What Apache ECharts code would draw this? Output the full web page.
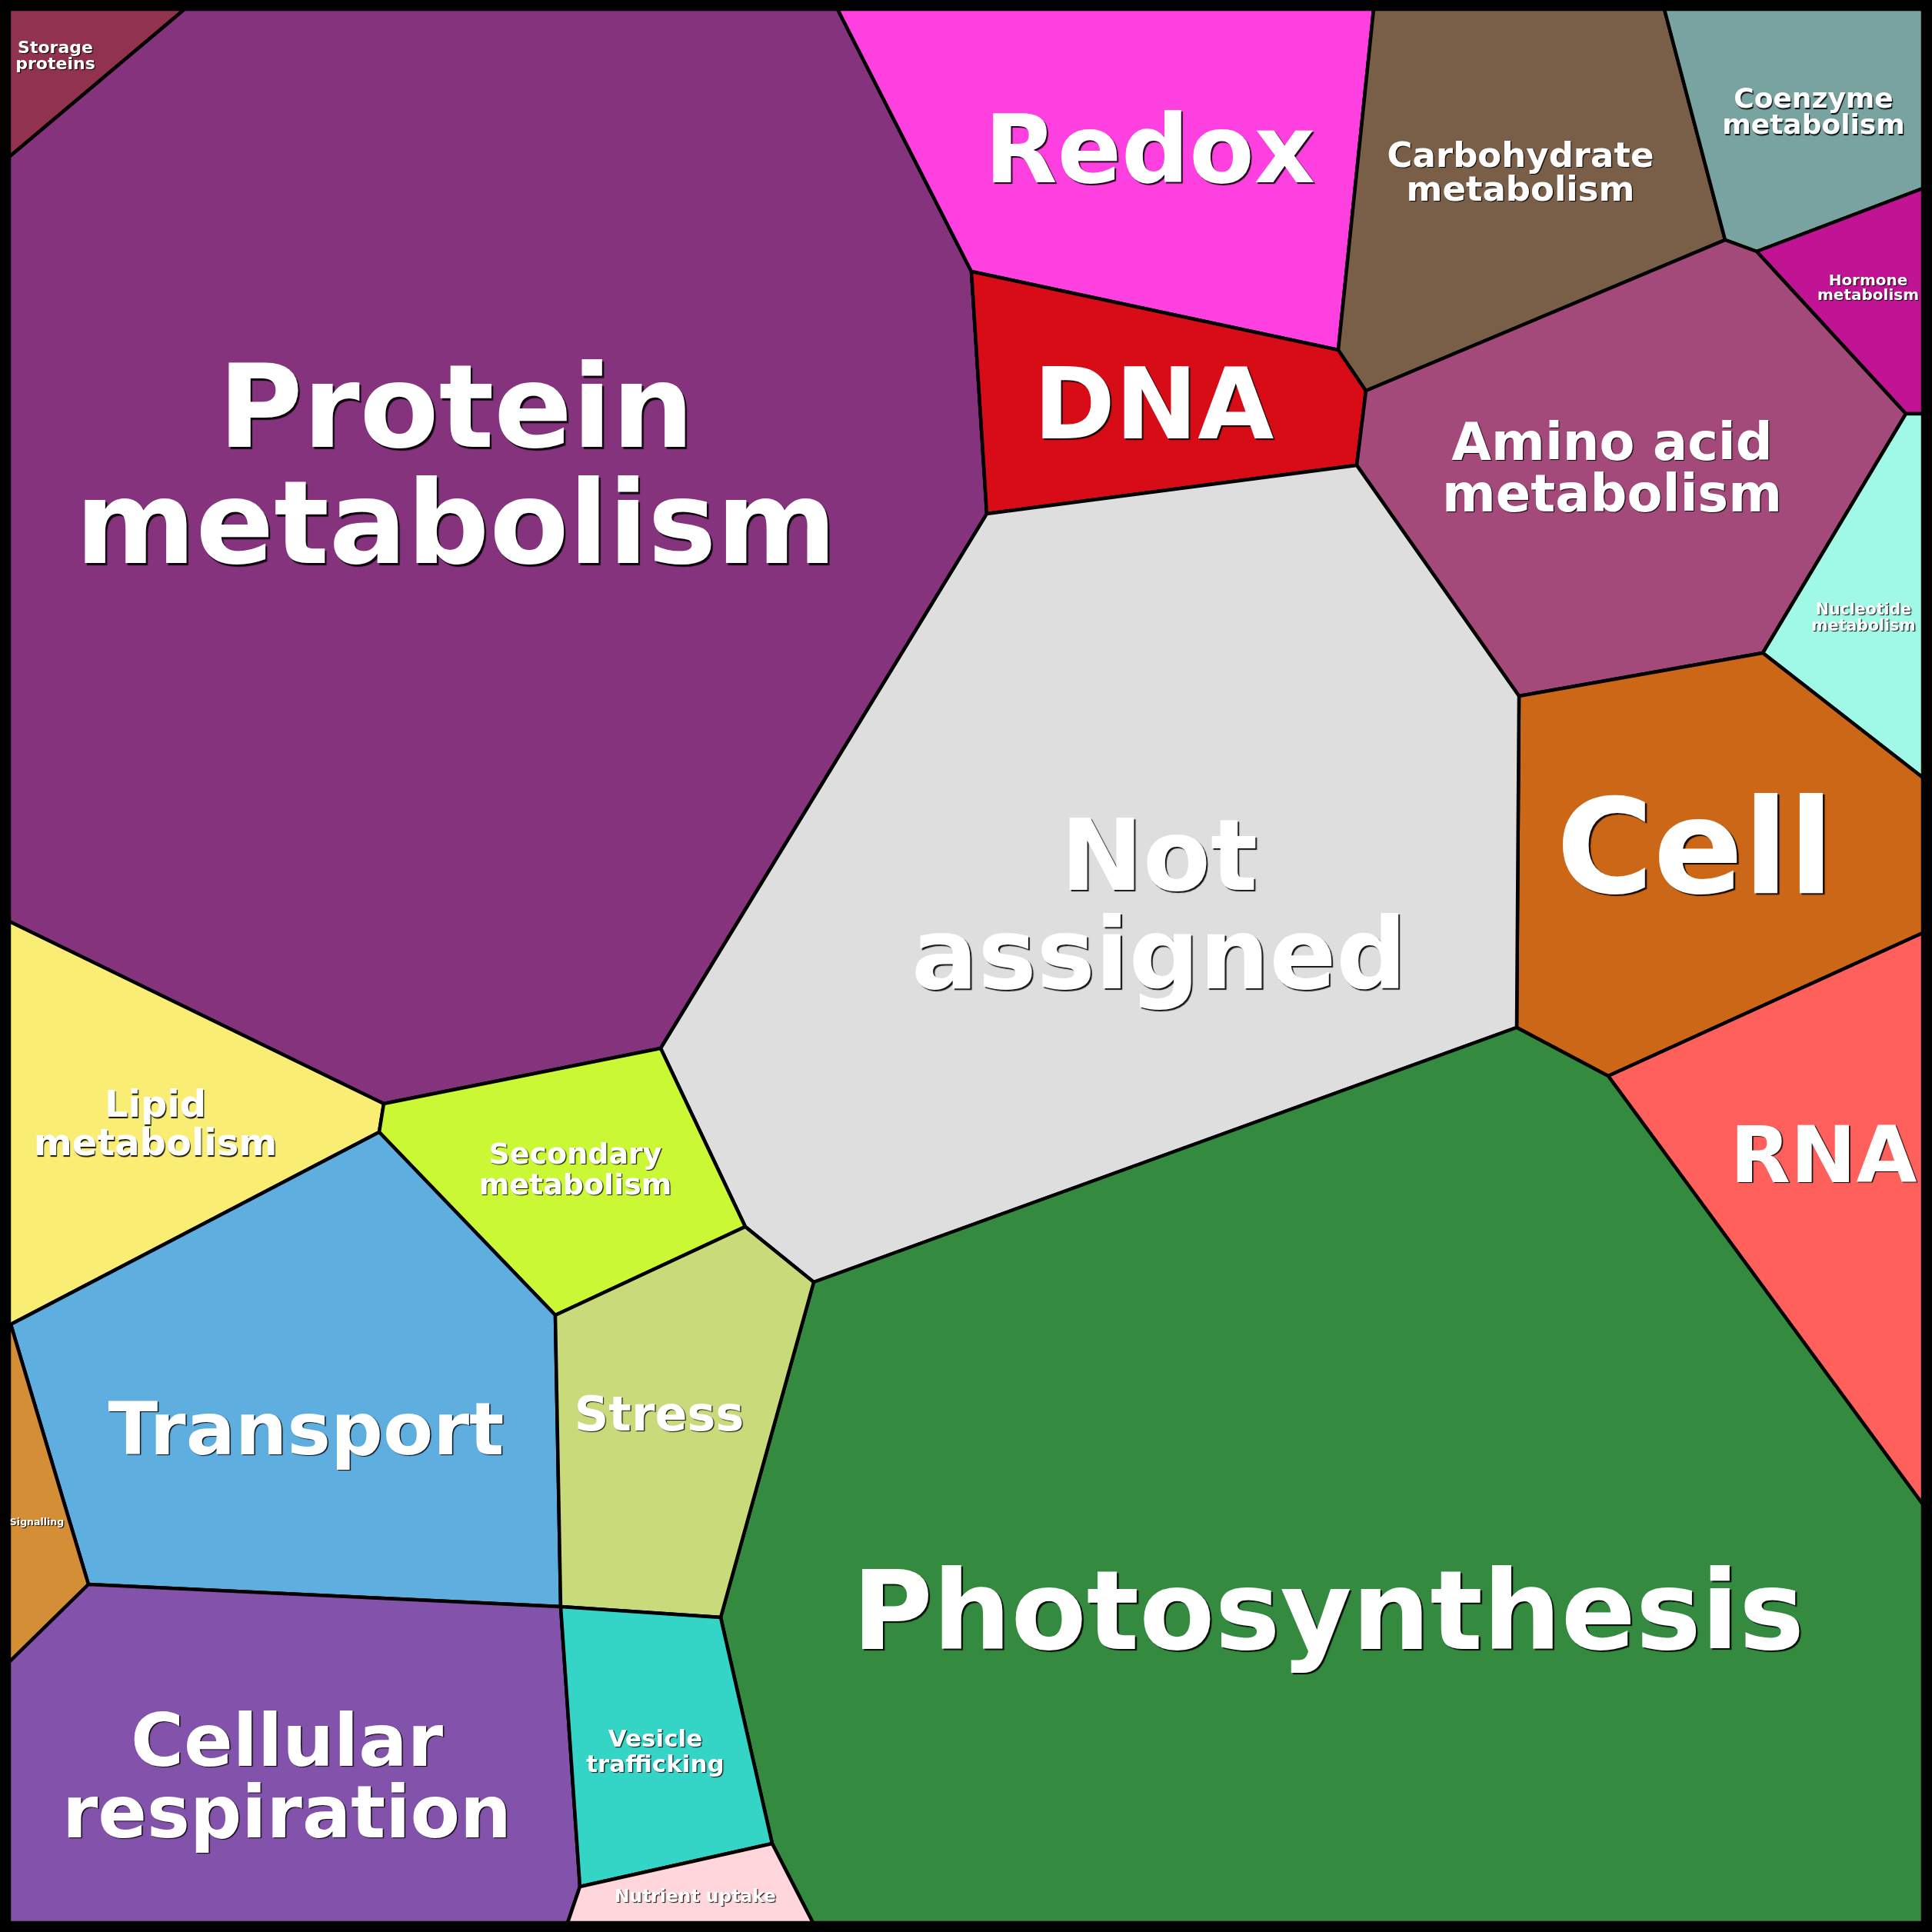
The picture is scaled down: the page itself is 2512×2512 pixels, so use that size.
<!DOCTYPE html>
<html>
<head>
<meta charset="utf-8">
<script src="https://cdn.jsdelivr.net/npm/echarts@6/dist/echarts.min.js"></script>
<style>
html,body{margin:0;padding:0;background:#fff;}
#chart{width:2512px;height:2512px;}
</style>
</head>
<body>
<div id="chart"></div>
<script>
// Category names (labels as shown)
const cellNames = [
  'Storage\nproteins', 'Protein\nmetabolism', 'Redox', 'DNA',
  'Carbohydrate\nmetabolism', 'Coenzyme\nmetabolism', 'Hormone\nmetabolism',
  'Amino acid\nmetabolism', 'Nucleotide\nmetabolism', 'Cell', 'RNA',
  'Not\nassigned', 'Photosynthesis', 'Lipid\nmetabolism', 'Secondary\nmetabolism',
  'Transport', 'Signalling', 'Stress', 'Cellular\nrespiration',
  'Vesicle\ntrafficking', 'Nutrient uptake'
];

// Voronoi cell outlines (data coordinates, domain 0..2512)
const cellPolygons = [
  [[12,12],[240,12],[12,204]],
  [[240,12],[1089,12],[1263,353],[1283,668],[859,1363],[499,1435],[12,1198],[12,204]],
  [[1089,12],[1786,12],[1740,455],[1263,353]],
  [[1263,353],[1740,455],[1776,508],[1764,605],[1283,668]],
  [[1786,12],[2164,12],[2243,312],[1776,508],[1740,455]],
  [[2164,12],[2500,12],[2500,245],[2284,327],[2243,312]],
  [[2284,327],[2500,245],[2500,538],[2478,538]],
  [[1776,508],[2243,312],[2284,327],[2478,538],[2292,849],[1975,905],[1764,605]],
  [[2478,538],[2500,538],[2500,1011],[2292,849]],
  [[1975,905],[2292,849],[2500,1011],[2500,1213],[2091,1399],[1972,1336]],
  [[2091,1399],[2500,1213],[2500,1956]],
  [[1283,668],[1764,605],[1975,905],[1972,1336],[1058,1667],[969,1595],[859,1363]],
  [[1058,1667],[1972,1336],[2091,1399],[2500,1956],[2500,2500],[1057,2500],[1004,2397],[937,2103]],
  [[12,1198],[499,1435],[493,1472],[14,1722],[12,1722]],
  [[499,1435],[859,1363],[969,1595],[722,1710],[493,1472]],
  [[493,1472],[722,1710],[729,2089],[115,2060],[14,1722]],
  [[12,1722],[14,1722],[115,2060],[12,2161]],
  [[722,1710],[969,1595],[1058,1667],[937,2103],[729,2089]],
  [[12,2161],[115,2060],[729,2089],[754,2453],[738,2500],[12,2500]],
  [[729,2089],[937,2103],[1004,2397],[754,2453]],
  [[754,2453],[1004,2397],[1057,2500],[738,2500]]
];

// Outer frame extent
const frameBounds = [0, 2512];

// ---- presentation (layout/style), kept separate from data ----
const cellColors = [
  '#91334F','#86337E','#FF40E0','#D70C17','#795F48','#78A3A1','#C01495',
  '#A44A7A','#A0F8E6','#CC6717','#FF605C','#DEDEDE','#348A3E','#F9EE73',
  '#CBF834','#5EAEE0','#D48F36','#C9DA7A','#8352AB','#34D4C6','#FFD6DB'
];
// label anchor [x, y] in data coords
const labelAnchors = [
  [72,73.5],[593,618],[1495,205],[1500,537],[1977,227],[2358,148],[2429,375],
  [2096,614],[2423,804],[2204,1116],[2371,1510],[1507,1188],[1727,2107],
  [202,1465],[748,1523],[398,1866],[48,1980],[857,1844],[373,2318],
  [852,2279],[904,2466.5]
];
// [fontSize, lineHeight]
const labelSizes = [
  [22,21],[150,151],[123,123],[128,128],[45,44],[36,34],[20,19],
  [67,67],[20.5,21],[172,172],[102,102],[128,128],[143,143],
  [48,50],[38,40],[95,95],[12.5,13],[62,62],[94,93],
  [31,33],[23.4,24]
];

const chart = echarts.init(document.getElementById('chart'), null, {renderer:'canvas'});

const cellData = cellPolygons.map((poly, i) => ({ name: cellNames[i].replace('\n',' '), value: [i] }));
const labelData = cellNames.map((n, i) => ({ name: n.replace('\n',' '), value: [labelAnchors[i][0], labelAnchors[i][1], i] }));

chart.setOption({
  animation: false,
  backgroundColor: '#ffffff',
  grid: { left: 0, right: 0, top: 0, bottom: 0 },
  xAxis: { type: 'value', min: frameBounds[0], max: frameBounds[1], show: false },
  yAxis: { type: 'value', min: frameBounds[0], max: frameBounds[1], inverse: true, show: false },
  series: [
    {
      type: 'custom',
      coordinateSystem: 'cartesian2d',
      data: cellData,
      silent: true,
      renderItem: function (params, api) {
        const i = api.value(0);
        const pts = cellPolygons[i].map(p => api.coord(p));
        return {
          type: 'polygon',
          shape: { points: pts },
          style: { fill: cellColors[i], stroke: '#000000', lineWidth: 4.5, lineJoin: 'miter' }
        };
      },
      encode: { x: [], y: [] }
    },
    {
      type: 'custom',
      coordinateSystem: 'cartesian2d',
      data: [{ value: [frameBounds[0], frameBounds[1]] }],
      silent: true,
      renderItem: function (params, api) {
        const a = api.coord([api.value(0), api.value(0)]);
        const b = api.coord([api.value(1), api.value(1)]);
        const w = 12;
        return {
          type: 'rect',
          shape: { x: a[0] + w/2, y: a[1] + w/2, width: b[0] - a[0] - w, height: b[1] - a[1] - w },
          style: { fill: 'none', stroke: '#000000', lineWidth: w }
        };
      }
    },
    {
      type: 'custom',
      coordinateSystem: 'cartesian2d',
      data: labelData,
      silent: true,
      z: 5,
      renderItem: function (params, api) {
        const i = api.value(2);
        const c = api.coord([api.value(0), api.value(1)]);
        const fs = labelSizes[i][0];
        const off = Math.max(1.2, Math.min(2.5, fs * 0.016));
        return {
          type: 'text',
          x: c[0], y: c[1],
          style: {
            text: cellNames[i],
            fill: '#ffffff',
            fontFamily: 'DejaVu Sans',
            fontWeight: 'bold',
            fontSize: fs,
            lineHeight: labelSizes[i][1],
            align: 'center',
            verticalAlign: 'middle',
            textShadowColor: 'rgba(0,0,0,0.9)',
            textShadowBlur: 1,
            textShadowOffsetX: off,
            textShadowOffsetY: off
          }
        };
      }
    }
  ]
});
</script>
</body>
</html>
